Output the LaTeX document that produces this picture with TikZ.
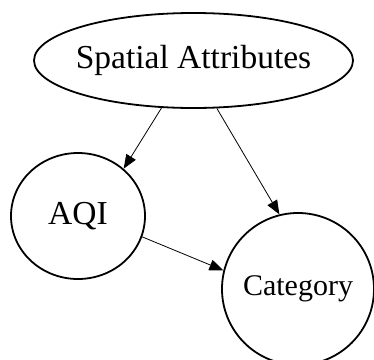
\documentclass[tikz,border=0pt]{standalone}
\usepackage{fontspec}
\setmainfont{Liberation Serif}
\usetikzlibrary{shapes.geometric,arrows.meta}

\tikzset{
  var/.style={draw, line width=1.8pt, ellipse, inner xsep=-6pt, inner ysep=0pt, font=\fontsize{33.5}{40}\selectfont},
  dep/.style={-{Triangle[length=14pt,width=11pt]}, line width=0.8pt}
}

\begin{document}
\begin{tikzpicture}[x=1pt,y=-1pt]
    \useasboundingbox (0,0) rectangle (374,359);

    \node[var, minimum width=319pt, minimum height=95pt] (spatial) at (193.5,60.5) {Spatial Attributes};
    \node[var, minimum width=134pt, minimum height=126pt] (aqi) at (78,216) {AQI};
    \node[var, minimum width=152pt, minimum height=152pt, font=\fontsize{30}{36}\selectfont] (cat) at (298,289) {Category};

    \draw[dep] (spatial.-124) -- (aqi.46);
    \draw[dep] (spatial.-64) -- (cat.104);
    \draw[dep] (aqi.-18) -- (cat.166);
\end{tikzpicture}
\end{document}
